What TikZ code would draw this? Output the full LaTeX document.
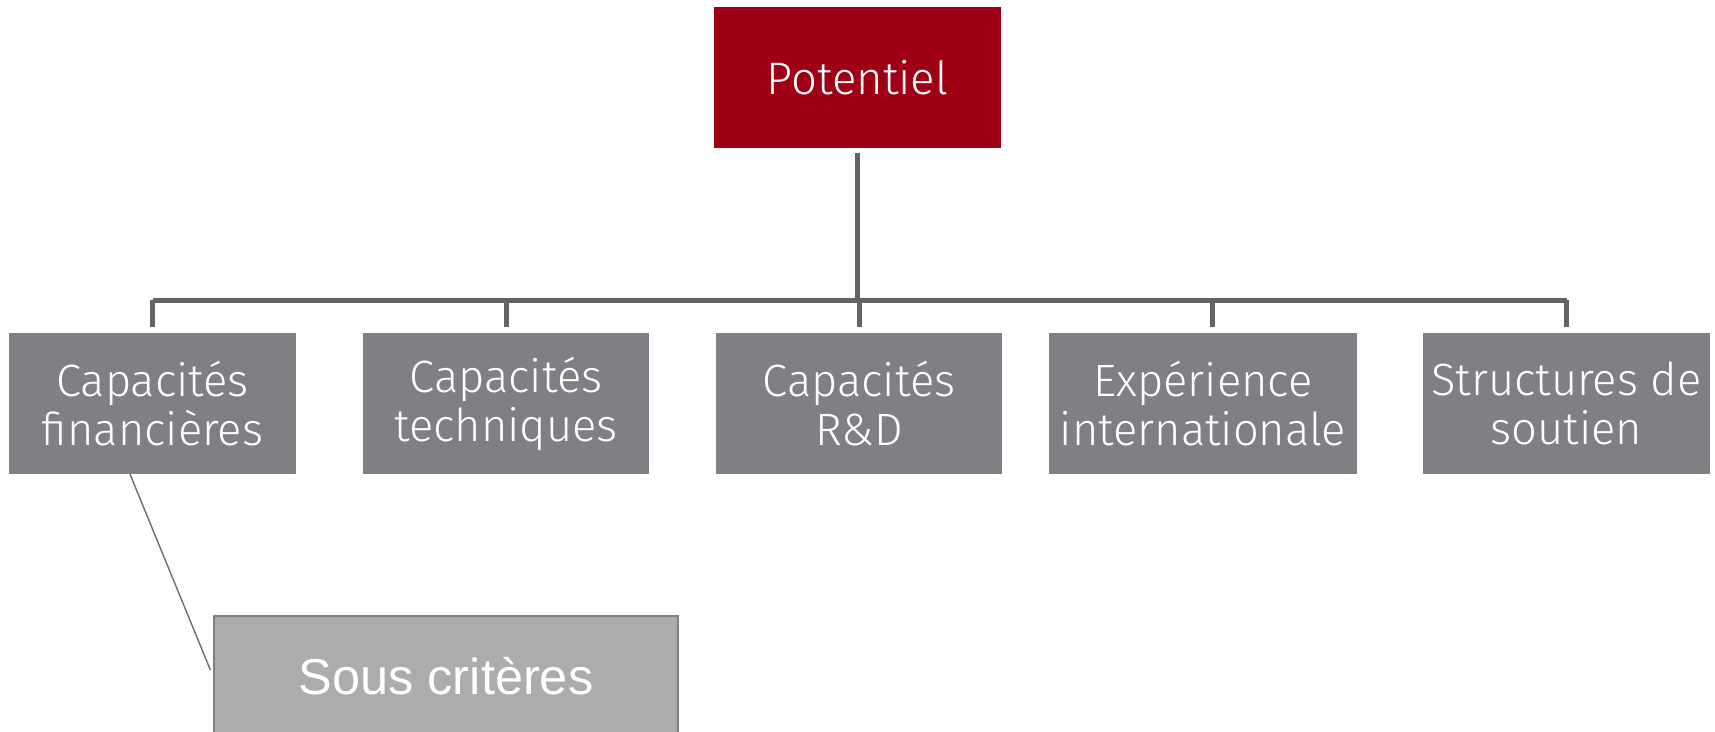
\documentclass[tikz,border=0pt]{standalone}
\usepackage{fontspec}
\setmainfont{Fira Sans}[UprightFont=* Light]
\newfontfamily\subfont{Liberation Sans}
\usepackage{tikz}
\usetikzlibrary{positioning}

\definecolor{eyred}{RGB}{160,0,22}
\definecolor{boxgray}{RGB}{128,127,132}
\definecolor{subgray}{RGB}{172,172,172}
\definecolor{linegray}{RGB}{100,100,100}

\begin{document}
\begin{tikzpicture}[x=1pt,y=1pt,
                    top node/.style={rectangle,fill=eyred,text=white,minimum width=287pt,minimum height=141pt,
                                     font=\fontsize{45.5}{50}\selectfont},
                    crit node/.style={rectangle,fill=boxgray,text=white,align=center,minimum height=141pt,
                                      inner sep=0pt,font=\fontsize{45.3}{49}\selectfont},
                    sub node/.style={rectangle,fill=subgray,draw=boxgray,line width=1.2pt,text=white,
                                     minimum width=464pt,minimum height=120pt,font=\subfont\fontsize{50.5}{56}\selectfont},
                    tree line/.style={draw=linegray,line width=5pt},
                    sub line/.style={draw=linegray!90,line width=1.5pt}]

\useasboundingbox (0,0) rectangle (1715,-731);

\node[top node] (P) at (857.5,-77.5) {Potentiel};

\node[crit node, minimum width=287pt] (C1) at (152.5,-403.5) {Capacités\\financières};
\node[crit node, minimum width=286pt] (C2) at (506,-403.5) {Capacités\\techniques};
\node[crit node, minimum width=286pt] (C3) at (859,-403.5) {Capacités\\R\&D};
\node[crit node, minimum width=308pt] (C4) at (1203,-403.5) {Expérience\\internationale};
\node[crit node, minimum width=287pt] (C5) at (1566.5,-403.5) {Structures de\\soutien};

\node[sub node] (S) at (446,-676) {Sous critères};

% bar joining the criteria
\coordinate (bar) at (857.5,-300);
\draw[tree line] ([yshift=-5pt]P.south) -- (bar);
\draw[tree line] (C1.north |- bar) -- (C5.north |- bar);
\foreach \c/\dx in {C1/0,C2/0,C3/0,C4/9,C5/0}
    \draw[tree line] ([xshift=\dx pt]\c.north |- bar) -- ([xshift=\dx pt,yshift=6pt]\c.north);

\draw[sub line] ([xshift=-22.5pt]C1.south) -- ([xshift=-3pt,yshift=6pt]S.west);
\end{tikzpicture}
\end{document}
